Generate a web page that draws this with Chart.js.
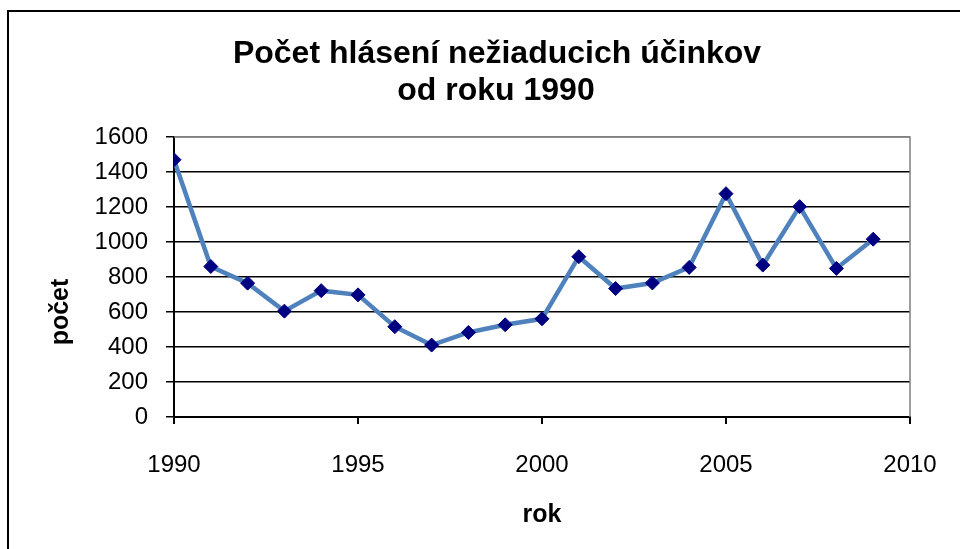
<!DOCTYPE html>
<html>
<head>
<meta charset="utf-8">
<script src="https://cdn.jsdelivr.net/npm/chart.js@4/dist/chart.umd.min.js"></script>
<style>
  html, body { margin: 0; padding: 0; background: #fff; }
  #wrap { width: 960px; height: 549px; }
</style>
</head>
<body>
<div id="wrap"><canvas id="c" width="960" height="549"></canvas></div>
<script>
const titleLines = ["Počet hlásení nežiaducich účinkov", "od roku 1990"];
const xTitle = "rok";
const yTitle = "počet";
const years = [1990,1991,1992,1993,1994,1995,1996,1997,1998,1999,2000,2001,2002,2003,2004,2005,2006,2007,2008,2009];
const counts = [1470,860,765,605,722,698,516,411,483,527,561,916,734,766,855,1276,868,1202,849,1016];
const xTickValues = [1990,1995,2000,2005,2010];
const yTickValues = [0,200,400,600,800,1000,1200,1400,1600];

const FONT = "'Liberation Sans', Arial, sans-serif";

const decor = {
  id: 'decor',
  beforeDatasetsDraw(chart) {
    const ctx = chart.ctx, a = chart.chartArea;
    ctx.save();
    ctx.strokeStyle = '#808080';
    ctx.lineWidth = 1.5;
    ctx.beginPath();
    ctx.moveTo(a.left, a.top);
    ctx.lineTo(a.right, a.top);
    ctx.lineTo(a.right, a.bottom);
    ctx.stroke();
    ctx.restore();
  },
  afterDraw(chart) {
    const ctx = chart.ctx, a = chart.chartArea;
    ctx.save();
    ctx.strokeStyle = '#000';
    ctx.lineWidth = 2;
    ctx.strokeRect(8, 11, 1000, 600);
    ctx.fillStyle = '#000';
    ctx.textAlign = 'center';
    ctx.textBaseline = 'alphabetic';
    ctx.font = "bold 32px " + FONT;
    ctx.fillText(titleLines[0], 497, 63);
    ctx.fillText(titleLines[1], 496, 100);
    ctx.font = "bold 25px " + FONT;
    ctx.fillText(xTitle, (a.left + a.right) / 2, 522);
    ctx.translate(61, 312);
    ctx.rotate(-Math.PI / 2);
    ctx.textBaseline = 'middle';
    ctx.fillText(yTitle, 0, 0);
    ctx.restore();
  }
};

new Chart(document.getElementById('c'), {
  type: 'line',
  data: {
    datasets: [{
      data: years.map((y, i) => ({ x: y, y: counts[i] })),
      borderColor: '#4F81BD',
      borderWidth: 4.5,
      pointStyle: 'rectRot',
      pointRadius: 7,
      pointBackgroundColor: '#000080',
      pointBorderColor: '#000080',
      pointBorderWidth: 1,
      tension: 0,
      fill: false
    }]
  },
  options: {
    responsive: false,
    animation: false,
    layout: { padding: { left: 0, right: 50, top: 137, bottom: 0 } },
    plugins: { legend: { display: false }, tooltip: { enabled: false }, title: { display: false } },
    scales: {
      x: {
        type: 'linear',
        min: 1990, max: 2010,
        afterBuildTicks: s => { s.ticks = xTickValues.map(v => ({ value: v })); },
        afterFit: s => { s.height = 132; s.paddingLeft = 0; s.paddingRight = 0; },
        ticks: { color: '#000', font: { family: FONT, size: 24 }, padding: 27, maxRotation: 0, callback: v => String(v) },
        grid: { drawOnChartArea: false, drawTicks: true, tickLength: 7, color: '#000', lineWidth: 2 },
        border: { color: '#000', width: 2 }
      },
      y: {
        min: 0, max: 1600,
        afterBuildTicks: s => { s.ticks = yTickValues.map(v => ({ value: v })); },
        afterFit: s => { s.width = 174; s.paddingTop = 0; s.paddingBottom = 0; },
        ticks: { color: '#000', font: { family: FONT, size: 24 }, padding: 18, callback: v => String(v) },
        grid: {
          color: c => (c.tick && c.tick.value === 1600) ? '#808080' : '#000',
          lineWidth: 1.5,
          tickLength: 8,
          tickColor: '#000',
          drawTicks: true
        },
        border: { color: '#000', width: 2 }
      }
    }
  },
  plugins: [decor]
});
</script>
</body>
</html>
